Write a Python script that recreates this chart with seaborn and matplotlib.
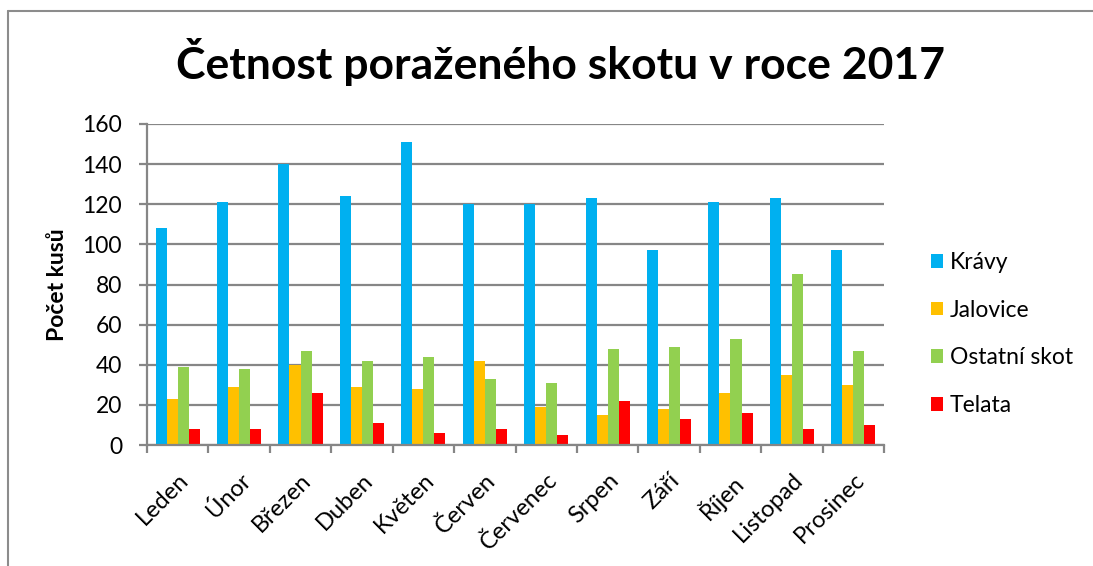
import numpy as np
import pandas as pd
import seaborn as sns
import matplotlib.pyplot as plt
from matplotlib.lines import Line2D

mesice = ['Leden', 'Únor', 'Březen', 'Duben', 'Květen', 'Červen',
          'Červenec', 'Srpen', 'Září', 'Říjen', 'Listopad', 'Prosinec']
kravy = [108, 121, 140, 124, 151, 120, 120, 123, 97, 121, 123, 97]
jalovice = [23, 29, 40, 29, 28, 42, 19, 15, 18, 26, 35, 30]
ostatni = [39, 38, 47, 42, 44, 33, 31, 48, 49, 53, 85, 47]
telata = [8, 8, 26, 11, 6, 8, 5, 22, 13, 16, 8, 10]
skupiny = ['Krávy', 'Jalovice', 'Ostatní skot', 'Telata']
barvy = ['#00b0f0', '#ffc000', '#92d050', '#ff0000']

df = pd.DataFrame({'mesic': mesice, 'Krávy': kravy, 'Jalovice': jalovice,
                   'Ostatní skot': ostatni, 'Telata': telata})
df = df.melt(id_vars='mesic', var_name='druh', value_name='kusy')

sns.set_style('white')
plt.rcParams['font.family'] = ['Lato', 'DejaVu Sans']
plt.rcParams['text.color'] = 'black'
plt.rcParams['xtick.color'] = 'black'
plt.rcParams['ytick.color'] = 'black'

fig = plt.figure(figsize=(10.93, 5.66), dpi=100)
ax = fig.add_axes([147 / 1093, 1 - 445 / 566, 737 / 1093, 321 / 566])

sns.barplot(data=df, x='mesic', y='kusy', hue='druh', order=mesice,
            hue_order=skupiny, palette=barvy, width=0.72, gap=0,
            saturation=1, ax=ax, edgecolor='none')

ax.set_ylim(0, 160)
ax.set_xlim(-0.5, 11.5)
ax.set_yticks(range(0, 161, 20))
ax.yaxis.grid(True, color='#868686', linewidth=1.6)
ax.set_axisbelow(True)
for s in ['top', 'right']:
    ax.spines[s].set_visible(False)
for s in ['left', 'bottom']:
    ax.spines[s].set_color('#868686')
    ax.spines[s].set_linewidth(1.6)

ax.tick_params(axis='y', which='major', left=True, length=6, color='#868686',
               labelcolor='black', width=1.6, labelsize=16.5, pad=12)
ax.set_xticks(range(len(mesice)))
ax.set_xticklabels(mesice, rotation=45, ha='right', rotation_mode='anchor',
                   fontsize=17)
ax.tick_params(axis='x', which='major', bottom=False, pad=14)
ax.set_xticks(np.arange(-0.5, 12, 1), minor=True)
ax.tick_params(axis='x', which='minor', bottom=True, length=6,
               color='#868686', width=1.6)

ax.set_xlabel('')
ax.set_ylabel('')
fig.text(57 / 1093, 1 - 285 / 566, 'Počet kusů', rotation=90,
         ha='center', va='center', fontsize=16.5, fontweight='bold')

fig.text(0.513, 1 - 62 / 566, 'Četnost poraženého skotu v roce 2017',
         ha='center', va='center', fontsize=32, fontweight='bold')

leg = ax.legend(loc='center left', bbox_to_anchor=(910 / 1093, 1 - 334 / 566),
                bbox_transform=fig.transFigure, frameon=False,
                fontsize=16.5, handlelength=0.55, handleheight=0.55,
                labelspacing=1.17, handletextpad=0.3)

# ramecek grafu - jen horni a leva hrana, zbytek je oriznuty
x0, y0 = 8 / 1093, 1 - 11 / 566
fig.lines.append(Line2D([x0, 1.0], [y0, y0], transform=fig.transFigure,
                        color='#8c8c8c', linewidth=1.5))
fig.lines.append(Line2D([x0, x0], [0.0, y0], transform=fig.transFigure,
                        color='#8c8c8c', linewidth=1.5))

fig.savefig('out.png', dpi=100)
